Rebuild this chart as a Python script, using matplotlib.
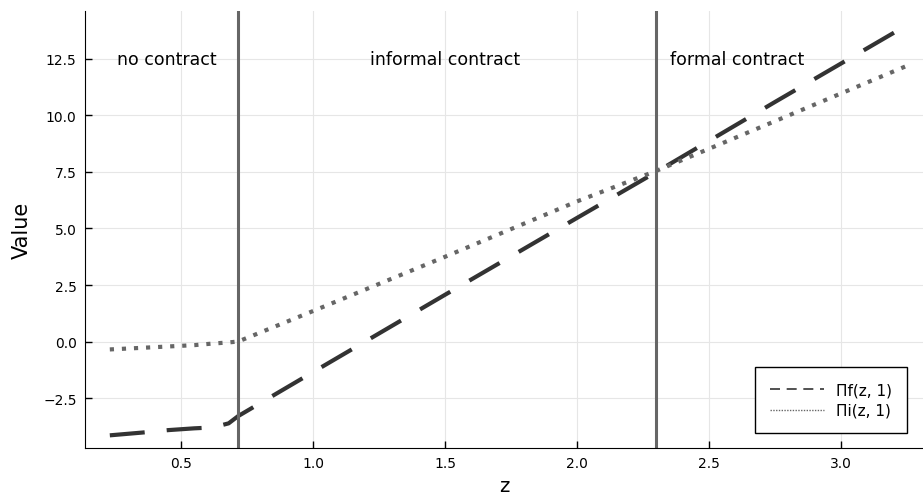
import matplotlib.pyplot as plt
from matplotlib.lines import Line2D

# values
z = [0.23, 0.35, 0.45, 0.55, 0.62, 0.68, 0.716, 1.0, 1.5, 2.0, 2.3, 2.75, 3.25]
pi_f = [-4.15, -4.03, -3.92, -3.84, -3.80, -3.62, -3.30, -1.35, 2.07, 5.47, 7.50, 10.6, 14.0]
pi_i = [-0.35, -0.28, -0.22, -0.16, -0.09, -0.04, 0.0, 1.35, 3.75, 6.20, 7.55, 9.75, 12.2]
cutoffs = [0.716, 2.30]
regions = ['no contract', 'informal contract', 'formal contract']
region_x = [0.447, 1.5, 2.606]
region_y = 12.5
xticks = [0.5, 1.0, 1.5, 2.0, 2.5, 3.0]
yticks = [-2.5, 0.0, 2.5, 5.0, 7.5, 10.0, 12.5]

fig = plt.figure(figsize=(9.23, 5.02), dpi=100)
ax = fig.add_axes([85 / 923, 53 / 502, 838 / 923, 437 / 502])

ax.grid(True, color='#e6e6e6', linewidth=0.8)
ax.set_axisbelow(True)

ax.plot(z, pi_f, color='#333333', linewidth=3, linestyle=(0, (8.4, 5.3)),
        dash_capstyle='butt', solid_capstyle='butt')
ax.plot(z, pi_i, color='#666666', linewidth=3, linestyle=(0, (1, 1.9)),
        dash_capstyle='butt')

for c in cutoffs:
    ax.axvline(c, color='#666666', linewidth=2.2)

for lab, xx in zip(regions, region_x):
    ax.text(xx, region_y, lab, ha='center', va='center', fontsize=12.5)

ax.set_xlim(0.136, 3.31)
ax.set_ylim(-4.71, 14.62)
ax.set_xticks(xticks)
ax.set_yticks(yticks)
ax.set_yticklabels(['\u22122.5', '0.0', '2.5', '5.0', '7.5', '10.0', '12.5'])
ax.tick_params(direction='in', length=5, labelsize=10, width=1, pad=6)
ax.spines['top'].set_visible(False)
ax.spines['right'].set_visible(False)
ax.set_xlabel('z', fontsize=14, labelpad=4)
ax.set_ylabel('Value', fontsize=15, labelpad=8)

handles = [
    Line2D([], [], color='#333333', linewidth=1.2, linestyle=(0, (6, 4))),
    Line2D([], [], color='#666666', linewidth=1.0, linestyle=(0, (1, 1))),
]
leg = ax.legend(handles, ['\u03a0f(z, 1)', '\u03a0i(z, 1)'], loc='lower right',
                bbox_to_anchor=(0.981, 0.034), borderaxespad=0, fancybox=False,
                edgecolor='black', framealpha=1, fontsize=11, handlelength=3.5,
                labelspacing=0.35, borderpad=1.0)
leg.get_frame().set_linewidth(1.0)

fig.savefig('out.png', dpi=100)
